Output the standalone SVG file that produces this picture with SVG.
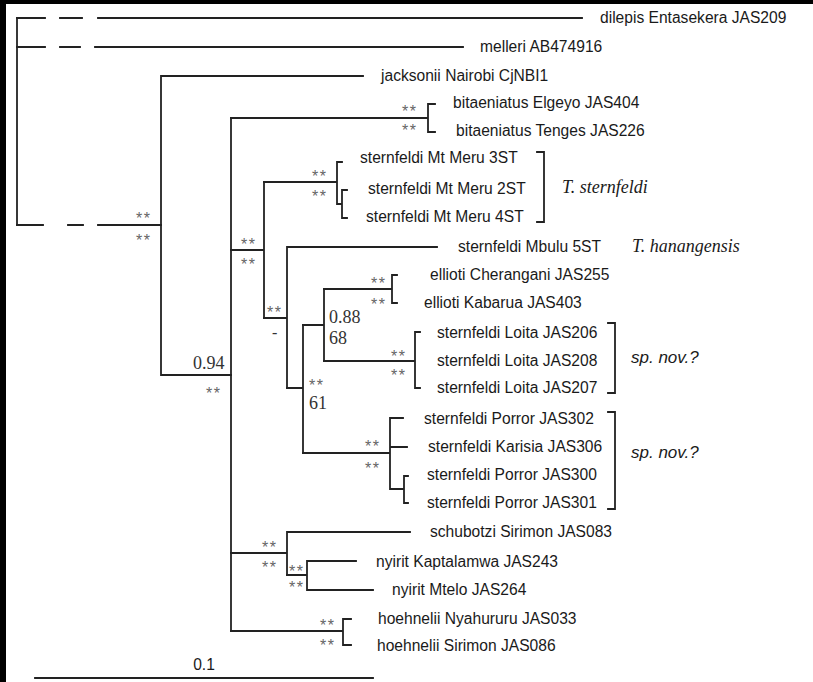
<svg xmlns="http://www.w3.org/2000/svg" width="813" height="682" viewBox="0 0 813 682">
<style>
.br{stroke:#222;stroke-width:1.8;fill:none;stroke-linecap:square}
.lb{font-family:"Liberation Sans",Arial,sans-serif;font-size:15.6px;fill:#1a1a1a}
.sp{font-family:"Liberation Sans",Arial,sans-serif;font-size:16px;fill:#666;letter-spacing:1.5px}
.num{font-family:"Liberation Serif","Times New Roman",serif;font-size:18px;fill:#333}
.tx{font-family:"Liberation Serif","Times New Roman",serif;font-style:italic;font-size:18px;fill:#1a1a1a}
.sn{font-family:"Liberation Sans",Arial,sans-serif;font-style:italic;font-size:17px;fill:#1a1a1a}
</style>
<rect x="0" y="0" width="813" height="682" fill="#fff"/>
<rect x="0" y="0" width="6" height="682" fill="#000"/>
<rect x="0" y="0" width="813" height="4" fill="#000"/>
<g id="connectors" class="br">
<path d="M17 18V225"/>
<path d="M17 18H45M60 18H82M98 18H582"/>
<path d="M17 47H45M60 47H80M95 47H463"/>
<path d="M17 225H43M68 225H83M98 225H161"/>
<path d="M161 76V375M161 76H363M161 375H231"/>
<path d="M231 118V631"/>
<path d="M231 118H428M428 104V132M428 104H435M428 132H435"/>
<path d="M231 250H264M264 182V318"/>
<path d="M264 182H337M337 162V204M337 162H342M337 204H342M342 190V218M342 190H347M342 218H347"/>
<path d="M264 318H287M287 247V388M287 247H437"/>
<path d="M287 388H303M303 325V453"/>
<path d="M303 325H324M324 289V361"/>
<path d="M324 289H392M392 275V303M392 275H397M392 303H397"/>
<path d="M324 361H415M415 332V388M415 332H420M415 388H420"/>
<path d="M303 453H390M390 418V489M390 418H403M390 447H407M390 489H404M404 476V503M404 476H408M404 503H408"/>
<path d="M231 553H287M287 532V575M287 532H410"/>
<path d="M287 575H307M307 561V590M307 561H356M307 590H373"/>
<path d="M231 631H343M343 619V645M343 619H351M343 645H351"/>
<path d="M35 678H373"/>
<path d="M615 323V393M615 323H608M615 393H608"/>
<path d="M615 412V509M615 412H608M615 509H608"/>
<path d="M544 152V222M544 152H537M544 222H537"/>
</g>
<g id="supports">
<text class="sp" x="136" y="224">**</text>
<text class="sp" x="136" y="246">**</text>
<text class="num" x="193" y="369">0.94</text>
<text class="sp" x="206" y="399">**</text>
<text class="sp" x="402" y="117">**</text>
<text class="sp" x="402" y="136">**</text>
<text class="sp" x="241" y="250">**</text>
<text class="sp" x="241" y="270">**</text>
<text class="sp" x="312" y="182">**</text>
<text class="sp" x="312" y="202">**</text>
<text class="sp" x="267" y="318">**</text>
<text class="num" x="272" y="338" style="font-size:16px">-</text>
<text class="sp" x="309" y="391">**</text>
<text class="num" x="309" y="409">61</text>
<text class="num" x="329" y="323">0.88</text>
<text class="num" x="329" y="344">68</text>
<text class="sp" x="371" y="289">**</text>
<text class="sp" x="371" y="310">**</text>
<text class="sp" x="391" y="362">**</text>
<text class="sp" x="391" y="381">**</text>
<text class="sp" x="365" y="452">**</text>
<text class="sp" x="365" y="474">**</text>
<text class="sp" x="262" y="553">**</text>
<text class="sp" x="262" y="573">**</text>
<text class="sp" x="289" y="577">**</text>
<text class="sp" x="289" y="593">**</text>
<text class="sp" x="320" y="631">**</text>
<text class="sp" x="320" y="651">**</text>
</g>
<g id="n-dilepis"><text class="lb" x="600" y="23">dilepis Entasekera JAS209</text></g>
<g id="n-melleri"><text class="lb" x="480" y="52">melleri AB474916</text></g>
<g id="n-jacksonii"><text class="lb" x="381" y="81">jacksonii Nairobi CjNBI1</text></g>
<g id="n-bitaeniatus404"><text class="lb" x="453" y="108">bitaeniatus Elgeyo JAS404</text></g>
<g id="n-bitaeniatus226"><text class="lb" x="456" y="136">bitaeniatus Tenges JAS226</text></g>
<g id="n-meru3"><text class="lb" x="360" y="163">sternfeldi Mt Meru 3ST</text></g>
<g id="n-meru2"><text class="lb" x="368" y="194">sternfeldi Mt Meru 2ST</text></g>
<g id="n-meru4"><text class="lb" x="366" y="222">sternfeldi Mt Meru 4ST</text></g>
<g id="n-tstern"><text class="tx" x="562" y="193">T. sternfeldi</text></g>
<g id="n-mbulu"><text class="lb" x="458" y="252">sternfeldi Mbulu 5ST</text></g>
<g id="n-thanang"><text class="tx" x="632" y="252">T. hanangensis</text></g>
<g id="n-ell255"><text class="lb" x="430" y="280">ellioti Cherangani JAS255</text></g>
<g id="n-ell403"><text class="lb" x="424" y="308">ellioti Kabarua JAS403</text></g>
<g id="n-loita206"><text class="lb" x="437" y="338">sternfeldi Loita JAS206</text></g>
<g id="n-loita208"><text class="lb" x="437" y="366">sternfeldi Loita JAS208</text></g>
<g id="n-loita207"><text class="lb" x="437" y="393">sternfeldi Loita JAS207</text></g>
<g id="n-spnov1"><text class="sn" x="631" y="363">sp. nov.?</text></g>
<g id="n-porror302"><text class="lb" x="424" y="424">sternfeldi Porror JAS302</text></g>
<g id="n-karisia306"><text class="lb" x="428" y="452">sternfeldi Karisia JAS306</text></g>
<g id="n-porror300"><text class="lb" x="427" y="480">sternfeldi Porror JAS300</text></g>
<g id="n-porror301"><text class="lb" x="427" y="508">sternfeldi Porror JAS301</text></g>
<g id="n-spnov2"><text class="sn" x="631" y="458">sp. nov.?</text></g>
<g id="n-schubotzi"><text class="lb" x="430" y="537">schubotzi Sirimon JAS083</text></g>
<g id="n-nyirit243"><text class="lb" x="376" y="567">nyirit Kaptalamwa JAS243</text></g>
<g id="n-nyirit264"><text class="lb" x="392" y="595">nyirit Mtelo JAS264</text></g>
<g id="n-hoeh033"><text class="lb" x="378" y="624">hoehnelii Nyahururu JAS033</text></g>
<g id="n-hoeh086"><text class="lb" x="377" y="651">hoehnelii Sirimon JAS086</text></g>
<g id="scale"><text class="lb" x="204" y="670" text-anchor="middle">0.1</text></g>
</svg>
